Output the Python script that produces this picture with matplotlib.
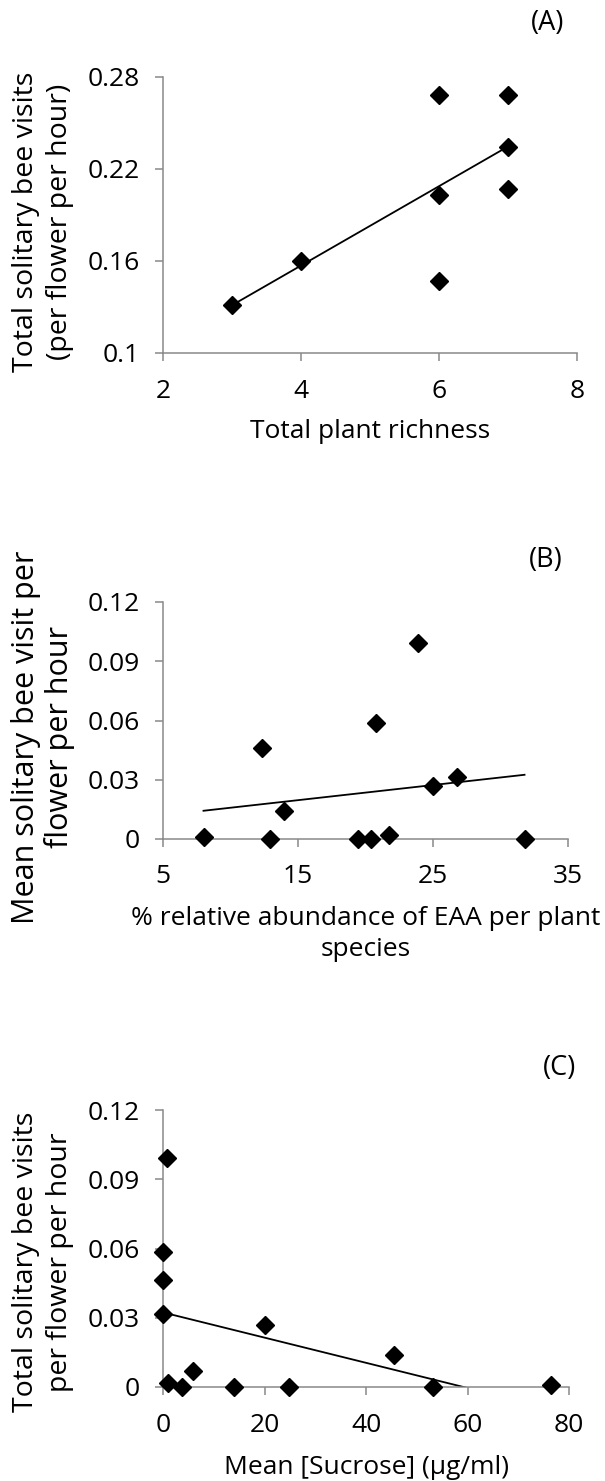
import numpy as np
import matplotlib
matplotlib.use("Agg")
import matplotlib.pyplot as plt

plt.rcParams['font.family'] = ['Open Sans', 'DejaVu Sans']

# (A) total plant richness vs. total solitary bee visits
richness = [3, 4, 6, 6, 6, 7, 7, 7]
visits_total = [0.131, 0.160, 0.268, 0.203, 0.147, 0.268, 0.2345, 0.207]

# (B) % relative abundance of EAA vs. mean solitary bee visits
eaa_pct = [8.0, 12.35, 12.92, 13.97, 19.44, 20.38, 20.75, 21.75, 23.86, 25.0, 26.79, 31.78]
visits_eaa = [0.001, 0.0463, 0.0, 0.0143, 0.0, 0.0, 0.0586, 0.0019, 0.099, 0.0269, 0.0316, 0.0]

# (C) mean sucrose concentration vs. total solitary bee visits
sucrose = [0.76, 0.0, 0.0, 0.0, 0.9, 3.8, 5.9, 14.06, 20.1, 24.9, 45.6, 53.3, 76.4]
visits_sucrose = [0.099, 0.0586, 0.0463, 0.0315, 0.0017, 0.0, 0.0068, 0.0, 0.027, 0.0, 0.014, 0.0, 0.001]

W, H = 605, 1481
AXIS_GREY = '#898989'
TICK_FS = 19
XLABEL_FS = 19
TAG_FS = 19.5

fig = plt.figure(figsize=(W / 100, H / 100), dpi=100)


def fx(px):
    return px / W


def fy(py):
    return 1 - py / H


def panel(box, x, y, xlim, ylim, xticks, yticks, yticklabels, xpad,
          xlabel, xlabel_y, xlabel_ls,
          ylabel, ylabel_y, ylabel_fs, ylabel_ls, tag, tag_xy):
    left, top, right, bottom = box
    ax = fig.add_axes([fx(left), fy(bottom), fx(right) - fx(left), fy(top) - fy(bottom)])
    ax.set_xlim(*xlim)
    ax.set_ylim(*ylim)
    ax.set_xticks(xticks)
    ax.set_yticks(yticks)
    ax.set_yticklabels(yticklabels)
    for side in ('top', 'right'):
        ax.spines[side].set_visible(False)
    for side in ('left', 'bottom'):
        ax.spines[side].set_color(AXIS_GREY)
        ax.spines[side].set_linewidth(1.1)
    ax.tick_params(direction='out', length=6, width=1.1, color=AXIS_GREY,
                   labelsize=TICK_FS, labelcolor='black')
    ax.tick_params(axis='y', pad=11)
    ax.tick_params(axis='x', pad=xpad)
    # least-squares trend line across the observed x range
    slope, intercept = np.polyfit(x, y, 1)
    xs = np.array([min(x), max(x)])
    ax.plot(xs, slope * xs + intercept, color='black', lw=1.3, zorder=2)
    ax.plot(x, y, linestyle='none', marker='D', markersize=9.5, color='black',
            clip_on=False, zorder=3)
    cx = (left + right) / 2
    fig.text(fx(cx), fy(xlabel_y), xlabel, fontsize=XLABEL_FS, ha='center',
             va='center', ma='center', linespacing=xlabel_ls)
    fig.text(fx(43), fy(ylabel_y), ylabel, fontsize=ylabel_fs, rotation=90,
             ha='center', va='center', ma='center', linespacing=ylabel_ls)
    fig.text(fx(tag_xy[0]), fy(tag_xy[1]), tag, fontsize=TAG_FS,
             ha='center', va='center')
    return ax


panel((163, 77, 577, 353), richness, visits_total,
      (2, 8), (0.1, 0.28), [2, 4, 6, 8], [0.1, 0.16, 0.22, 0.28],
      ['0.1', '0.16', '0.22', '0.28'], 13,
      'Total plant richness', 431, 1.3,
      'Total solitary bee visits\n(per flower per hour)', 222, 20.5, 1.25,
      '(A)', (548, 23))

panel((163, 602, 568, 839), eaa_pct, visits_eaa,
      (5, 35), (0, 0.12), [5, 15, 25, 35], [0, 0.03, 0.06, 0.09, 0.12],
      ['0', '0.03', '0.06', '0.09', '0.12'], 12,
      '% relative abundance of EAA per plant\nspecies', 934, 1.35,
      'Mean solitary bee visit per\nflower per hour', 737, 22, 1.12,
      '(B)', (546, 560))

panel((163, 1110, 569, 1387), sucrose, visits_sucrose,
      (0, 80), (0, 0.12), [0, 20, 40, 60, 80], [0, 0.03, 0.06, 0.09, 0.12],
      ['0', '0.03', '0.06', '0.09', '0.12'], 13,
      'Mean [Sucrose] (\u00b5g/ml)', 1468, 1.3,
      'Total solitary bee visits\nper flower per hour', 1262, 20.5, 1.25,
      '(C)', (560, 1068))

fig.savefig('out.png', dpi=100)
